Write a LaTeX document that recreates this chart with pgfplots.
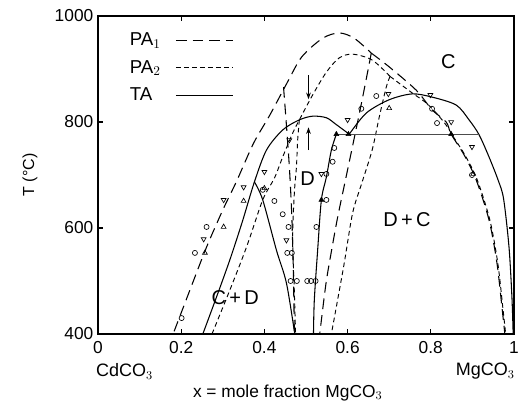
\documentclass[border=0pt]{standalone}
\usepackage{fontspec}
\setmainfont{Liberation Sans}
\usepackage{pgfplots}
\pgfplotsset{compat=1.18}
\usetikzlibrary{arrows.meta}

\begin{document}
\begin{tikzpicture}
\begin{axis}[
    scale only axis,
    width=312pt, height=238.5pt,
    xmin=0, xmax=1, ymin=400, ymax=1000,
    xtick={0,0.2,0.4,0.6,0.8,1},
    xticklabels={0,0.2,0.4,0.6,0.8,1},
    ytick={400,600,800,1000},
    yticklabels={400,600,800,1000},
    tick align=inside,
    major tick length=4pt,
    axis line style={line width=1.2pt},
    every tick/.style={black, line width=0.8pt},
    tick label style={font=\fontsize{13}{15}\selectfont},
    x tick label style={yshift=-2pt},
    clip mode=individual,
    legend plot pos=right,
    legend cell align=left,
    legend image code/.code={\draw[#1] (0pt,0pt) -- (43pt,0pt);},
    legend style={draw=none, fill=none, font=\fontsize{14}{16}\selectfont,
        at={(rel axis cs:0.06,0.965)}, anchor=north west,
        row sep=5.5pt, column sep=9pt},
]
\coordinate (SW) at (rel axis cs:0,0);

% PA1 long dashed
\addplot[black, line width=0.8pt, dash pattern=on 8pt off 4.5pt, smooth] coordinates {
    (0.183,405) (0.221,483) (0.261,564) (0.300,634) (0.333,688) (0.374,760)
    (0.413,813) (0.456,876) (0.490,923) (0.540,958) (0.580,968) (0.616,958) (0.657,930)
};
\addplot[black, line width=0.8pt, dash pattern=on 8pt off 4.5pt, smooth, forget plot] coordinates {
    (0.657,930) (0.700,904) (0.765,860) (0.803,823) (0.837,800) (0.849,777)
    (0.880,738) (0.909,691) (0.940,615) (0.959,534) (0.971,451) (0.978,400)
};
\addplot[black, line width=0.8pt, dash pattern=on 8pt off 4.5pt, smooth, forget plot] coordinates {
    (0.657,930) (0.635,842) (0.615,766) (0.592,680) (0.576,620) (0.562,560) (0.548,495) (0.533,400)
};
\addplot[black, line width=0.8pt, dash pattern=on 8pt off 4.5pt, smooth, forget plot] coordinates {
    (0.446,866) (0.452,804) (0.460,715) (0.466,620) (0.470,500) (0.472,400)
};

% PA2 short dashed
\addplot[black, line width=0.7pt, dash pattern=on 3.5pt off 2.5pt, smooth] coordinates {
    (0.274,400) (0.317,483) (0.357,564) (0.396,653) (0.424,694) (0.444,734)
    (0.468,779) (0.484,804) (0.516,851) (0.549,894) (0.580,921) (0.612,928)
    (0.659,917) (0.702,886)
};
\addplot[black, line width=0.7pt, dash pattern=on 3.5pt off 2.5pt, smooth, forget plot] coordinates {
    (0.702,886) (0.755,855) (0.789,836) (0.813,817) (0.837,794) (0.856,770)
    (0.884,735) (0.912,690) (0.942,615) (0.961,534) (0.973,451) (0.980,400)
};
\addplot[black, line width=0.7pt, dash pattern=on 3.5pt off 2.5pt, smooth, forget plot] coordinates {
    (0.702,886) (0.693,866) (0.676,809) (0.659,747) (0.633,682) (0.612,628)
    (0.592,534) (0.575,460) (0.561,400)
};
\addplot[black, line width=0.7pt, dash pattern=on 3.5pt off 2.5pt, smooth, forget plot] coordinates {
    (0.484,804) (0.480,766) (0.477,715) (0.472,666) (0.468,583) (0.472,480) (0.475,400)
};

% TA solid
\addplot[black, line width=0.8pt, smooth] coordinates {
    (0.252,400) (0.285,470) (0.317,540) (0.347,612) (0.376,687) (0.405,747)
    (0.444,785) (0.484,804) (0.516,811) (0.549,808) (0.573,795) (0.604,777)
};
\addplot[black, line width=0.8pt, smooth, forget plot] coordinates {
    (0.376,687) (0.396,653) (0.429,558) (0.453,496) (0.473,400)
};
\addplot[black, line width=0.8pt, smooth, forget plot] coordinates {
    (0.573,777) (0.561,747) (0.549,696) (0.537,653) (0.528,558) (0.520,464) (0.518,400)
};
\addplot[black, line width=0.8pt, smooth, forget plot] coordinates {
    (0.604,777) (0.645,817) (0.700,842) (0.755,853) (0.803,847) (0.861,832)
    (0.892,804) (0.916,776) (0.940,734) (0.962,690) (0.975,655) (0.988,564)
    (0.995,470) (0.998,400)
};
\addplot[black!70, line width=0.4pt, forget plot] coordinates {(0.573,777) (0.916,777)};

\legend{PA$_1$, PA$_2$, TA}

% data points
\addplot[only marks, mark=o, mark size=1.9pt, mark options={line width=0.5pt}, forget plot] coordinates {
    (0.201,430) (0.233,553) (0.261,602) (0.396,672) (0.424,651) (0.444,626)
    (0.458,602) (0.455,553) (0.466,553) (0.463,500) (0.478,500) (0.503,500)
    (0.512,500) (0.523,500) (0.525,602) (0.549,653) (0.549,702) (0.564,725)
    (0.568,751) (0.633,825) (0.669,849) (0.803,825) (0.815,798) (0.899,700)
};
\addplot[only marks, mark=triangle, mark size=2.1pt, mark options={rotate=180, line width=0.5pt}, forget plot] coordinates {
    (0.254,579) (0.302,653) (0.350,677) (0.400,706) (0.460,766) (0.453,577)
    (0.537,702) (0.600,804) (0.698,853) (0.799,851) (0.849,800) (0.899,753)
};
\addplot[only marks, mark=triangle, mark size=2.1pt, mark options={line width=0.5pt}, forget plot] coordinates {
    (0.257,553) (0.302,602) (0.350,651) (0.400,675) (0.700,826) (0.902,702)
};
\addplot[only marks, mark=triangle*, mark size=2.1pt, forget plot] coordinates {
    (0.573,777) (0.602,777) (0.849,777) (0.537,653)
};

% arrows
\draw[-{Stealth[length=5pt,width=3.5pt]}, line width=0.8pt] (axis cs:0.506,888) -- (axis cs:0.506,843);
\draw[-{Stealth[length=5pt,width=3.5pt]}, line width=0.8pt] (axis cs:0.506,747) -- (axis cs:0.506,790);

% region labels
\node[font=\fontsize{15}{18}\selectfont] at (axis cs:0.842,913) {C};
\node[font=\fontsize{15}{18}\selectfont] at (axis cs:0.504,694) {D};
\node[font=\fontsize{15}{18}\selectfont] at (axis cs:0.743,615) {D\,+\,C};
\node[font=\fontsize{15}{18}\selectfont] at (axis cs:0.330,468) {C\,+\,D};

% outer labels
\node[anchor=west, font=\fontsize{13.5}{16}\selectfont] at ([shift={(-5pt,-28pt)}]axis cs:0,400) {CdCO$_3$};
\node[anchor=east, font=\fontsize{13.5}{16}\selectfont] at ([shift={(4pt,-28pt)}]axis cs:1,400) {MgCO$_3$};
\node[font=\fontsize{13}{15}\selectfont] at ([yshift=-44pt]axis cs:0.456,400) {x = mole fraction MgCO$_3$};
\node[rotate=90, font=\fontsize{12}{14}\selectfont] at ([xshift=-51pt]axis cs:0,700) {T (°C)};
\end{axis}
\pgfresetboundingbox
\path ([shift={(-73.5pt,-54pt)}]SW) rectangle ([shift={(315.75pt,250.5pt)}]SW);
\end{tikzpicture}
\end{document}
